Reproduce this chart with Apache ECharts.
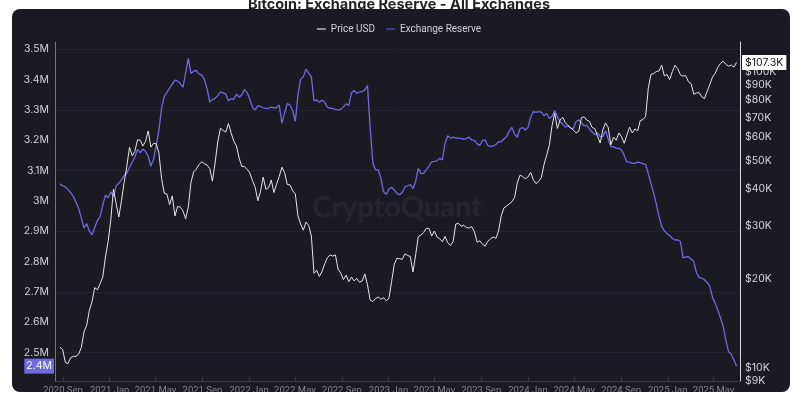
<!DOCTYPE html>
<html><head><meta charset="utf-8">
<script src="https://cdn.jsdelivr.net/npm/echarts@6/dist/echarts.min.js"></script>
<style>
html,body{margin:0;padding:0;background:#fff;width:798px;height:396px;overflow:hidden;}
#panel{position:absolute;left:12px;top:9px;width:778px;height:383px;border-radius:8px;background:#1b1a23;}
#chart{position:absolute;left:0;top:0;width:798px;height:396px;}
#cut{position:absolute;left:0;top:392px;width:798px;height:4px;background:#fff;}
</style></head>
<body><div id="panel"></div><div id="chart"></div><div id="cut"></div>
<script>
// weekly observations starting 2020-08-24
const startDate = '2020-08-24';
const stepDays = 7;
// Exchange Reserve (millions BTC)
const reserveM = [
3.056,3.050,3.046,3.037,3.027,3.014,2.996,2.975,2.943,2.910,
2.925,2.900,2.888,2.912,2.935,2.948,2.985,3.020,3.010,3.030,
3.014,3.050,3.058,3.070,3.083,3.092,3.110,3.127,3.145,3.170,
3.158,3.171,3.163,3.147,3.115,3.137,3.182,3.234,3.305,3.345,
3.358,3.372,3.385,3.398,3.395,3.387,3.374,3.422,3.470,3.420,
3.428,3.430,3.419,3.415,3.401,3.370,3.326,3.334,3.338,3.347,
3.360,3.356,3.352,3.330,3.337,3.335,3.352,3.342,3.350,3.367,
3.357,3.335,3.308,3.300,3.314,3.312,3.307,3.305,3.305,3.309,
3.307,3.308,3.316,3.256,3.290,3.321,3.316,3.298,3.262,3.350,
3.401,3.409,3.435,3.421,3.410,3.330,3.333,3.325,3.332,3.325,
3.309,3.305,3.305,3.302,3.300,3.302,3.310,3.320,3.315,3.356,
3.364,3.355,3.359,3.360,3.366,3.380,3.240,3.125,3.102,3.102,
3.075,3.030,3.022,3.038,3.045,3.036,3.025,3.020,3.028,3.046,
3.050,3.054,3.040,3.065,3.107,3.090,3.091,3.103,3.115,3.129,
3.130,3.132,3.141,3.135,3.190,3.215,3.207,3.210,3.208,3.206,
3.206,3.203,3.206,3.210,3.201,3.199,3.188,3.183,3.199,3.201,
3.182,3.179,3.181,3.186,3.195,3.195,3.204,3.212,3.230,3.242,
3.220,3.210,3.238,3.242,3.234,3.242,3.275,3.294,3.292,3.294,
3.293,3.281,3.288,3.272,3.279,3.298,3.277,3.262,3.253,3.243,
3.248,3.240,3.239,3.262,3.267,3.258,3.247,3.250,3.237,3.227,
3.218,3.225,3.212,3.212,3.231,3.204,3.179,3.179,3.174,3.173,
3.168,3.150,3.128,3.128,3.124,3.124,3.128,3.126,3.122,3.120,
3.090,3.058,3.024,2.990,2.948,2.916,2.901,2.892,2.886,2.876,
2.871,2.871,2.866,2.812,2.815,2.816,2.808,2.800,2.763,2.748,
2.745,2.740,2.731,2.718,2.682,2.662,2.640,2.614,2.587,2.540,
2.503,2.494,2.475,2.455];
// Price USD (thousands)
const priceK = [
11.7,11.5,10.4,10.3,10.8,10.9,10.9,11.1,11.7,13.2,
13.9,15.6,16.7,18.6,18.3,19.2,20.2,23.6,26.6,31.5,
40.0,35.8,32.2,36.6,42.2,47.8,55.5,51.9,53.7,58.8,
58.6,56.0,58.0,63.0,55.5,57.2,57.0,53.0,43.5,38.8,
38.5,35.5,38.0,32.5,35.0,34.8,33.8,31.8,34.9,42.3,
45.8,46.8,48.5,49.5,48.8,48.3,47.0,42.6,49.0,57.8,
64.3,63.2,62.4,66.7,62.0,58.2,56.0,51.0,47.8,47.7,
46.7,45.4,42.8,40.6,36.6,39.4,44.0,40.0,40.5,43.0,
39.0,41.6,44.2,47.5,45.5,41.5,41.4,39.5,38.6,32.5,
30.5,29.1,31.0,30.2,27.8,20.8,21.3,20.3,21.1,22.4,
23.5,24.0,23.8,24.0,21.5,20.8,19.8,20.5,19.5,20.2,
19.6,20.0,19.4,19.6,20.7,19.0,16.9,16.7,17.1,17.3,
17.0,17.2,16.8,17.1,19.5,22.3,23.4,23.3,23.2,24.2,
23.9,23.7,21.0,24.0,27.7,28.0,28.6,29.5,29.5,27.8,
28.9,27.6,27.2,26.6,27.7,26.4,25.8,26.6,30.5,30.7,
30.0,30.2,29.7,29.6,29.9,28.7,26.5,26.8,26.1,25.7,
26.7,27.2,27.6,27.3,28.9,32.5,34.6,35.1,35.7,36.3,
37.5,42.0,44.6,44.2,43.4,44.0,45.6,43.1,41.8,42.5,
43.8,48.5,52.1,56.5,65.6,72.3,64.2,68.5,70.0,67.1,
65.7,64.5,63.4,62.0,62.8,69.8,70.3,68.5,67.8,64.7,
64.1,60.5,57.3,63.5,67.0,64.7,56.5,60.0,58.6,62.0,
60.1,57.2,61.1,64.8,62.0,64.0,63.0,68.3,68.8,70.5,
88.0,97.8,98.4,100.0,100.4,105.0,96.7,97.6,94.0,100.0,
105.0,102.3,97.5,96.5,96.8,92.4,91.0,83.8,84.7,84.8,
82.2,81.0,85.7,90.4,95.8,98.6,103.3,106.5,108.3,105.8,
104.2,105.2,103.5,107.3];
const leftTicksM = [2.5,2.6,2.7,2.8,2.9,3.0,3.1,3.2,3.3,3.4,3.5];
const leftGridM = [2.5,2.7,2.9,3.1,3.3,3.5];
const rightTicksK = [9,10,20,30,40,50,60,70,80,90,100];
const xTickDates = ['2020-09-01','2021-01-01','2021-05-01','2021-09-01','2022-01-01','2022-05-01','2022-09-01','2023-01-01','2023-05-01','2023-09-01','2024-01-01','2024-05-01','2024-09-01','2025-01-01','2025-05-01'];
const xRange = ['2020-08-11','2025-07-09'];
const leftRangeM = [2.406, 3.524];
const rightRangeK = [9, 125.8];

const MON = ['Jan','Feb','Mar','Apr','May','Jun','Jul','Aug','Sep','Oct','Nov','Dec'];
const utc = s => { const p = s.split('-').map(Number); return Date.UTC(p[0], p[1]-1, p[2]); };
const t0 = utc(startDate);
const DAY = 86400000;
const times = reserveM.map((_, i) => t0 + i * stepDays * DAY);
const reserveData = reserveM.map((v, i) => [times[i], v * 1e6]);
const priceData = priceK.map((v, i) => [times[i], Math.log10(v * 1000)]);
const lastReserve = reserveM[reserveM.length - 1] * 1e6;
const lastPrice = priceK[priceK.length - 1];

const FONT = 'Inter, Roboto, sans-serif';
const NONE = 'rgba(0,0,0,0)';
const chart = echarts.init(document.getElementById('chart'), null, {renderer: 'canvas'});
chart.setOption({
  animation: false,
  backgroundColor: 'transparent',
  title: {
    text: 'Bitcoin: Exchange Reserve - All Exchanges',
    left: 'center', top: -3, padding: 0,
    textStyle: {fontSize: 14.5, fontWeight: 'bold', color: '#222', fontFamily: FONT}
  },
  legend: {
    top: 19, left: 'center', icon: 'rect', itemWidth: 9, itemHeight: 1.5, itemGap: 11,
    textStyle: {color: '#d0d0d6', fontSize: 10, fontFamily: 'Roboto, sans-serif'},
    data: [
      {name: 'Price USD', itemStyle: {color: '#b8b8b8'}},
      {name: 'Exchange Reserve', itemStyle: {color: '#4a47a8'}}
    ]
  },
  graphic: [{
    type: 'text', x: 397, y: 208, z: -1, silent: true,
    style: {text: 'CryptoQuant', fill: 'rgba(255,255,255,0.05)', font: 'bold 29px Lato, sans-serif', textAlign: 'center', textVerticalAlign: 'middle'}
  }],
  grid: {left: 55, right: 58, top: 42, bottom: 15},
  xAxis: {
    type: 'value', min: utc(xRange[0]), max: utc(xRange[1]),
    axisLine: {show: true, lineStyle: {color: '#3a3944'}},
    axisTick: {show: true, inside: true, length: 4, lineStyle: {color: '#3a3944'}, customValues: xTickDates.map(utc)},
    axisLabel: {
      customValues: xTickDates.map(utc), color: '#85858f', fontSize: 9.5, margin: 5, fontFamily: 'Roboto, sans-serif',
      hideOverlap: false, showMinLabel: true, showMaxLabel: true,
      formatter: v => { const d = new Date(v); return d.getUTCFullYear() + ' ' + MON[d.getUTCMonth()]; }
    },
    splitLine: {show: false}
  },
  yAxis: [{
    type: 'value', position: 'left', min: leftRangeM[0] * 1e6, max: leftRangeM[1] * 1e6,
    axisLine: {show: true, lineStyle: {color: '#6a67dc', width: 1}},
    axisTick: {show: false, customValues: leftGridM.map(v => v * 1e6)},
    axisLabel: {
      customValues: leftTicksM.map(v => v * 1e6), color: '#d2d2d8', fontSize: 10.5, margin: 6, fontFamily: FONT,
      formatter: v => (Math.round(v / 1e5) / 10) + 'M'
    },
    splitLine: {show: true, lineStyle: {color: '#25242e', width: 1}}
  }, {
    type: 'value', position: 'right', min: Math.log10(rightRangeK[0] * 1000), max: Math.log10(rightRangeK[1] * 1000),
    axisLine: {show: true, lineStyle: {color: '#d8d8dc', width: 1}},
    axisTick: {show: false},
    axisLabel: {
      customValues: rightTicksK.map(k => Math.log10(k * 1000)), color: '#d2d2d8', fontSize: 10.5, margin: 5, fontFamily: FONT,
      formatter: v => '$' + Math.round(Math.pow(10, v) / 1000) + 'K'
    },
    splitLine: {show: false}
  }],
  series: [{
    name: 'Exchange Reserve', type: 'line', yAxisIndex: 0, data: reserveData,
    showSymbol: false, symbol: 'none', color: '#6d6ae2',
    lineStyle: {width: 1.3, color: '#6d6ae2'},
    markLine: {
      silent: true, symbol: 'none', animation: false,
      lineStyle: {color: NONE, width: 1, type: 'solid'},
      label: {
        show: true, position: 'start', distance: 1, color: '#fff', backgroundColor: '#6d6ae2',
        padding: [2, 2], fontSize: 10.5, fontFamily: FONT,
        formatter: () => (Math.floor(lastReserve / 1e5) / 10) + 'M'
      },
      data: [{yAxis: lastReserve}]
    }
  }, {
    name: 'Price USD', type: 'line', yAxisIndex: 1, data: priceData,
    showSymbol: false, symbol: 'none', color: '#e6e6e6',
    lineStyle: {width: 1, color: '#e6e6e6'},
    markLine: {
      silent: true, symbol: 'none', animation: false,
      lineStyle: {color: NONE, width: 1, type: 'solid'},
      label: {
        show: true, position: 'end', distance: 2, color: '#111', backgroundColor: '#fff',
        padding: [2, 3], fontSize: 10.5, fontFamily: FONT,
        formatter: () => '$' + lastPrice.toFixed(1) + 'K'
      },
      data: [{yAxis: Math.log10(lastPrice * 1000)}]
    }
  }]
});
</script>
</body></html>
